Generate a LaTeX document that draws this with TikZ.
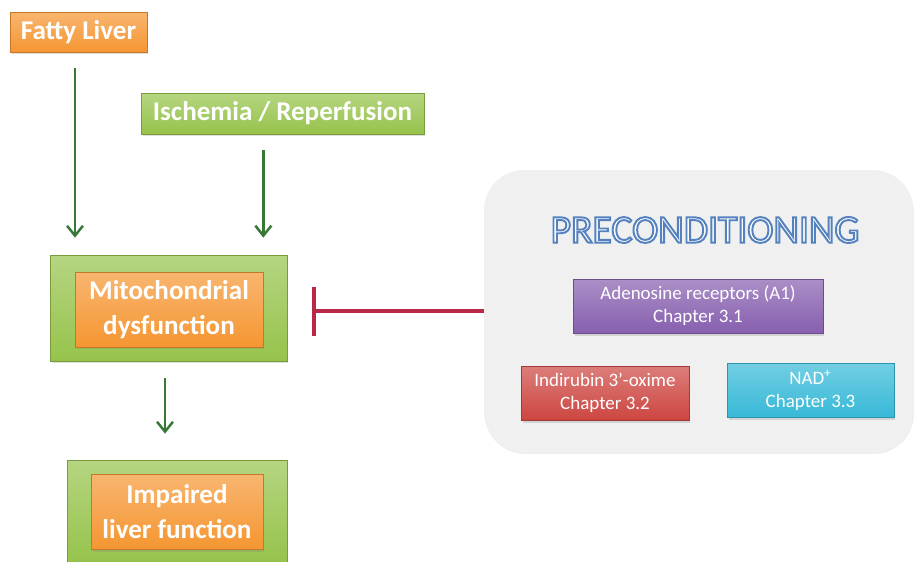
\documentclass[tikz,border=0pt]{standalone}
\usepackage{fontspec}
\setmainfont{Carlito}
\usepackage{tikz}
\usetikzlibrary{calc}
\usetikzlibrary{arrows.meta}
\usetikzlibrary{shadows}
\definecolor{boxorange}{RGB}{245,150,50}
\definecolor{boxgreen}{RGB}{150,195,75}
\definecolor{boxpurple}{RGB}{135,95,175}
\definecolor{boxred}{RGB}{205,70,65}
\definecolor{boxcyan}{RGB}{55,185,215}
\definecolor{arrowgreen}{RGB}{55,120,55}
\definecolor{inhibred}{RGB}{185,40,70}
\definecolor{panelgray}{RGB}{240,240,240}
\newcommand{\outlined}[1]{\textcolor{white}{\special{pdf:literal direct 2 Tr 1.1 w 0.333 0.51 0.745 RG}#1\special{pdf:literal direct 0 Tr}}}
\begin{document}
\begin{tikzpicture}[x=0.02cm,y=-0.02cm,
  box/.style={draw=#1!80!black,line width=0.4pt,top color=#1!70!white,bottom color=#1,
    text=white,align=center,inner sep=0pt,
    drop shadow={opacity=0.25,shadow xshift=0.03cm,shadow yshift=-0.05cm}},
  big/.style={font=\fontsize{15.4}{19.6}\selectfont\bfseries},
  small/.style={font=\fontsize{10.8}{13}\selectfont,minimum height=1.08cm},
  down/.style={draw=arrowgreen,line width=1.4pt,-{Straight Barb[length=0.2cm,width=0.32cm]}}]
\path[use as bounding box,fill=white] (0,0) rectangle (915,561);
\node (fatty) at (78.5,32) [box=boxorange,big,minimum width=2.74cm,minimum height=0.8cm] {Fatty Liver};
\node (isch) at (282.5,113.5) [box=boxgreen,big,minimum width=5.66cm,minimum height=0.82cm] {Ischemia / Reperfusion};
\node (mito) at (168.5,308) [box=boxgreen,minimum width=4.74cm,minimum height=2.12cm] {};
\node (mitoin) at (169,309.5) [box=boxorange,big,minimum width=3.76cm,minimum height=1.5cm] {Mitochondrial\\dysfunction};
\node (liver) at (177,511.5) [box=boxgreen,minimum width=4.4cm,minimum height=2.06cm] {};
\node (liverin) at (177,511.5) [box=boxorange,big,minimum width=3.44cm,minimum height=1.5cm] {Impaired\\liver function};
\draw[down,shorten <=0.32cm,shorten >=0.34cm] ($(fatty.south)+(-3.5,0)$) -- ($(fatty.south |- mito.north)+(-3.5,0)$);
\draw[down,shorten <=0.32cm,shorten >=0.34cm] (isch.south -| mitoin.east) -- (mito.north -| mitoin.east);
\draw[down,shorten <=0.34cm,shorten >=0.52cm] ($(mito.south)+(-3.5,0)$) -- ($(mito.south |- liver.north)+(-3.5,0)$);
\node (panel) at (698.5,311) [fill=panelgray,rounded corners=0.8cm,minimum width=8.58cm,minimum height=5.64cm,
  drop shadow={opacity=0.12,shadow xshift=0.02cm,shadow yshift=-0.04cm}] {};
\node (title) at (705,230) [font=\fontsize{22.5}{26}\selectfont] {\outlined{PRECONDITIONING}};
\foreach \n/\x/\y/\c/\w/\t in {aden/698/306/boxpurple/5.0/{Adenosine receptors (A1)\\Chapter 3.1},
    indi/605/393/boxred/3.36/{Indirubin 3’-oxime\\Chapter 3.2},
    nad/810.5/390/boxcyan/3.34/{NAD\textsuperscript{+}\\Chapter 3.3}} {
\node (\n) at (\x,\y) [box=\c,small,minimum width=\w cm] {\t};
}
\draw[draw=inhibred,line width=2.3pt,-{Bar[width=0.98cm]},shorten >=0.5cm] (panel.west) -- (panel.west -| mito.east);
\end{tikzpicture}
\end{document}
